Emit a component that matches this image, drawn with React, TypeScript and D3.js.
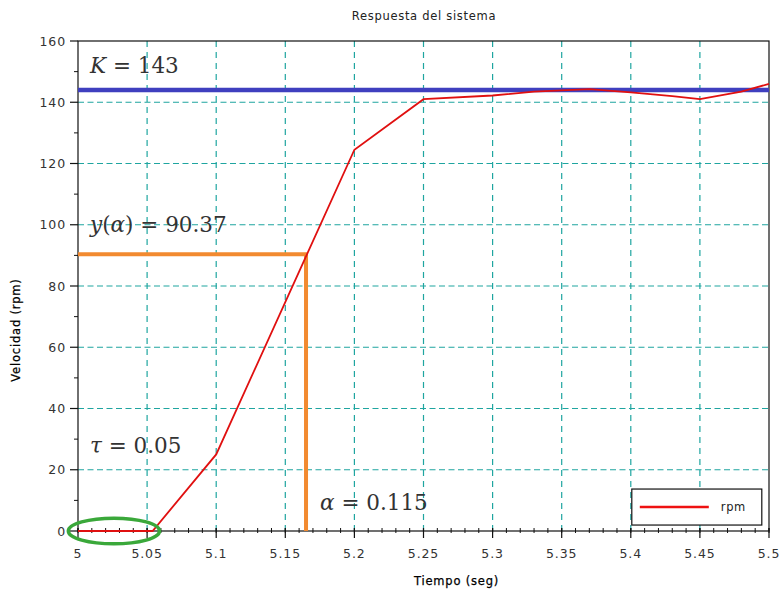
import React from 'react';
import * as d3 from 'd3';

// step response samples (seconds, rpm)
const tiempo = [5, 5.054, 5.1, 5.2, 5.25, 5.3, 5.33, 5.37, 5.4, 5.43, 5.45, 5.48, 5.5];
const rpm = [0, 0, 25, 124.5, 141, 142.2, 143.5, 144.3, 143.2, 142, 141, 143.5, 146];

const xTicks = [5, 5.05, 5.1, 5.15, 5.2, 5.25, 5.3, 5.35, 5.4, 5.45, 5.5];
const xTickLabels = ['5', '5.05', '5.1', '5.15', '5.2', '5.25', '5.3', '5.35', '5.4', '5.45', '5.5'];
const yTicks = [0, 20, 40, 60, 80, 100, 120, 140, 160];

const K = 144;
const alphaT = 5.165;
const yAlpha = 90.37;
const tauCenter = [5.026, 0];
const tauRadius = [0.033, 4.2];

const W = 782;
const H = 592;
const margin = { top: 41, right: 13, bottom: 61, left: 78 };

export default function App() {
  const iw = W - margin.left - margin.right;
  const ih = H - margin.top - margin.bottom;

  const x = d3.scaleLinear().domain([5, 5.5]).range([0, iw]);
  const y = d3.scaleLinear().domain([0, 160]).range([ih, 0]);

  const pts = tiempo.map((t, i) => [t, rpm[i]] as [number, number]);
  const line = d3
    .line<[number, number]>()
    .x((d) => x(d[0]))
    .y((d) => y(d[1]));

  const xMinor = d3.range(5, 5.5001, 0.01);
  const yMinor = d3.range(10, 160, 20);

  const grid = '#1fa5a0';
  const tickFont = { fontFamily: 'DejaVu Sans', fontSize: 12.5, fill: '#333', letterSpacing: 0.9 };
  const mathFont = { fontFamily: 'DejaVu Serif', fontSize: 21.5, fill: '#333' };
  const titleFont = { fontFamily: 'DejaVu Sans', fontSize: 11.5, fill: '#000', letterSpacing: 0.8, stroke: '#000', strokeWidth: 0.25 };

  return (
    <svg
      width={W}
      height={H}
      style={{ position: 'fixed', left: 0, top: 0, background: '#fff' }}
    >
      <text x={W / 2 + 33} y={20} textAnchor="middle" style={{ fontFamily: 'DejaVu Sans', fontSize: 11.5, fill: '#222', letterSpacing: 0.7 }}>
        Respuesta del sistema
      </text>
      <g transform={`translate(${margin.left},${margin.top})`}>
        {/* grid */}
        {xTicks.slice(1, -1).map((t) => (
          <line key={'gx' + t} x1={x(t)} x2={x(t)} y1={0} y2={ih} stroke={grid} strokeWidth={1.2} strokeDasharray="6,5" />
        ))}
        {yTicks.slice(1, -1).map((v) => (
          <line key={'gy' + v} x1={0} x2={iw} y1={y(v)} y2={y(v)} stroke={grid} strokeWidth={1.2} strokeDasharray="6,3.5" />
        ))}

        {/* frame */}
        <rect x={0} y={0} width={iw} height={ih} fill="none" stroke="#111" strokeWidth={1.2} />

        {/* x ticks */}
        {xMinor.map((t, i) => (
          <line key={'mx' + i} x1={x(t)} x2={x(t)} y1={ih - 3} y2={ih + 2} stroke="#111" strokeWidth={1} />
        ))}
        {xTicks.map((t, i) => (
          <g key={'tx' + t}>
            <line x1={x(t)} x2={x(t)} y1={ih - 3} y2={ih + 7} stroke="#111" strokeWidth={1.2} />
            <text x={x(t)} y={ih + 27} textAnchor="middle" style={tickFont}>
              {xTickLabels[i]}
            </text>
          </g>
        ))}

        {/* y ticks */}
        {yMinor.map((v) => (
          <line key={'my' + v} x1={-4} x2={0} y1={y(v)} y2={y(v)} stroke="#111" strokeWidth={1} />
        ))}
        {yTicks.map((v) => (
          <g key={'ty' + v}>
            <line x1={-8} x2={0} y1={y(v)} y2={y(v)} stroke="#111" strokeWidth={1.2} />
            <text x={-12} y={y(v) + 4.5} textAnchor="end" style={tickFont}>
              {v}
            </text>
          </g>
        ))}

        {/* annotations */}
        <line x1={0} x2={iw} y1={y(K)} y2={y(K)} stroke="#3f3fbf" strokeWidth={4.5} />
        <path
          d={`M${x(5)},${y(yAlpha)}H${x(alphaT)}V${y(0)}`}
          fill="none"
          stroke="#f28a30"
          strokeWidth={4}
        />

        <path d={line(pts) || ''} fill="none" stroke="#e01010" strokeWidth={1.8} />

        <ellipse
          cx={x(tauCenter[0])}
          cy={y(tauCenter[1])}
          rx={x(5 + tauRadius[0]) - x(5)}
          ry={y(0) - y(tauRadius[1])}
          fill="none"
          stroke="#3aa83a"
          strokeWidth={3.5}
        />

        <text x={12} y={y(149.7)} style={mathFont}>
          <tspan fontStyle="italic">K</tspan> = 143
        </text>
        <text x={12} y={y(97.6)} style={mathFont}>
          <tspan fontStyle="italic">y</tspan>(<tspan fontStyle="italic">α</tspan>) = 90.37
        </text>
        <text x={12} y={y(25.5)} style={mathFont}>
          <tspan fontStyle="italic">τ</tspan> = 0.05
        </text>
        <text x={x(alphaT) + 14} y={y(7)} style={mathFont}>
          <tspan fontStyle="italic">α</tspan> = 0.115
        </text>

        {/* legend */}
        <g transform={`translate(${x(5.4) + 1},${y(13.7)})`}>
          <rect x={0} y={0} width={130} height={36} fill="#fff" stroke="#111" strokeWidth={1.2} />
          <line x1={8} x2={77} y1={18} y2={18} stroke="#ee1111" strokeWidth={2.5} />
          <text x={89} y={22} style={{ fontFamily: 'DejaVu Sans', fontSize: 11.5, fill: '#222', letterSpacing: 0.6 }}>
            rpm
          </text>
        </g>

        {/* axis titles */}
        <text x={iw / 2 + 33} y={ih + 54} textAnchor="middle" style={titleFont}>
          Tiempo (seg)
        </text>
        <text transform={`translate(${-58},${ih / 2 + 44}) rotate(-90)`} textAnchor="middle" style={titleFont}>
          Velocidad (rpm)
        </text>
      </g>
    </svg>
  );
}
